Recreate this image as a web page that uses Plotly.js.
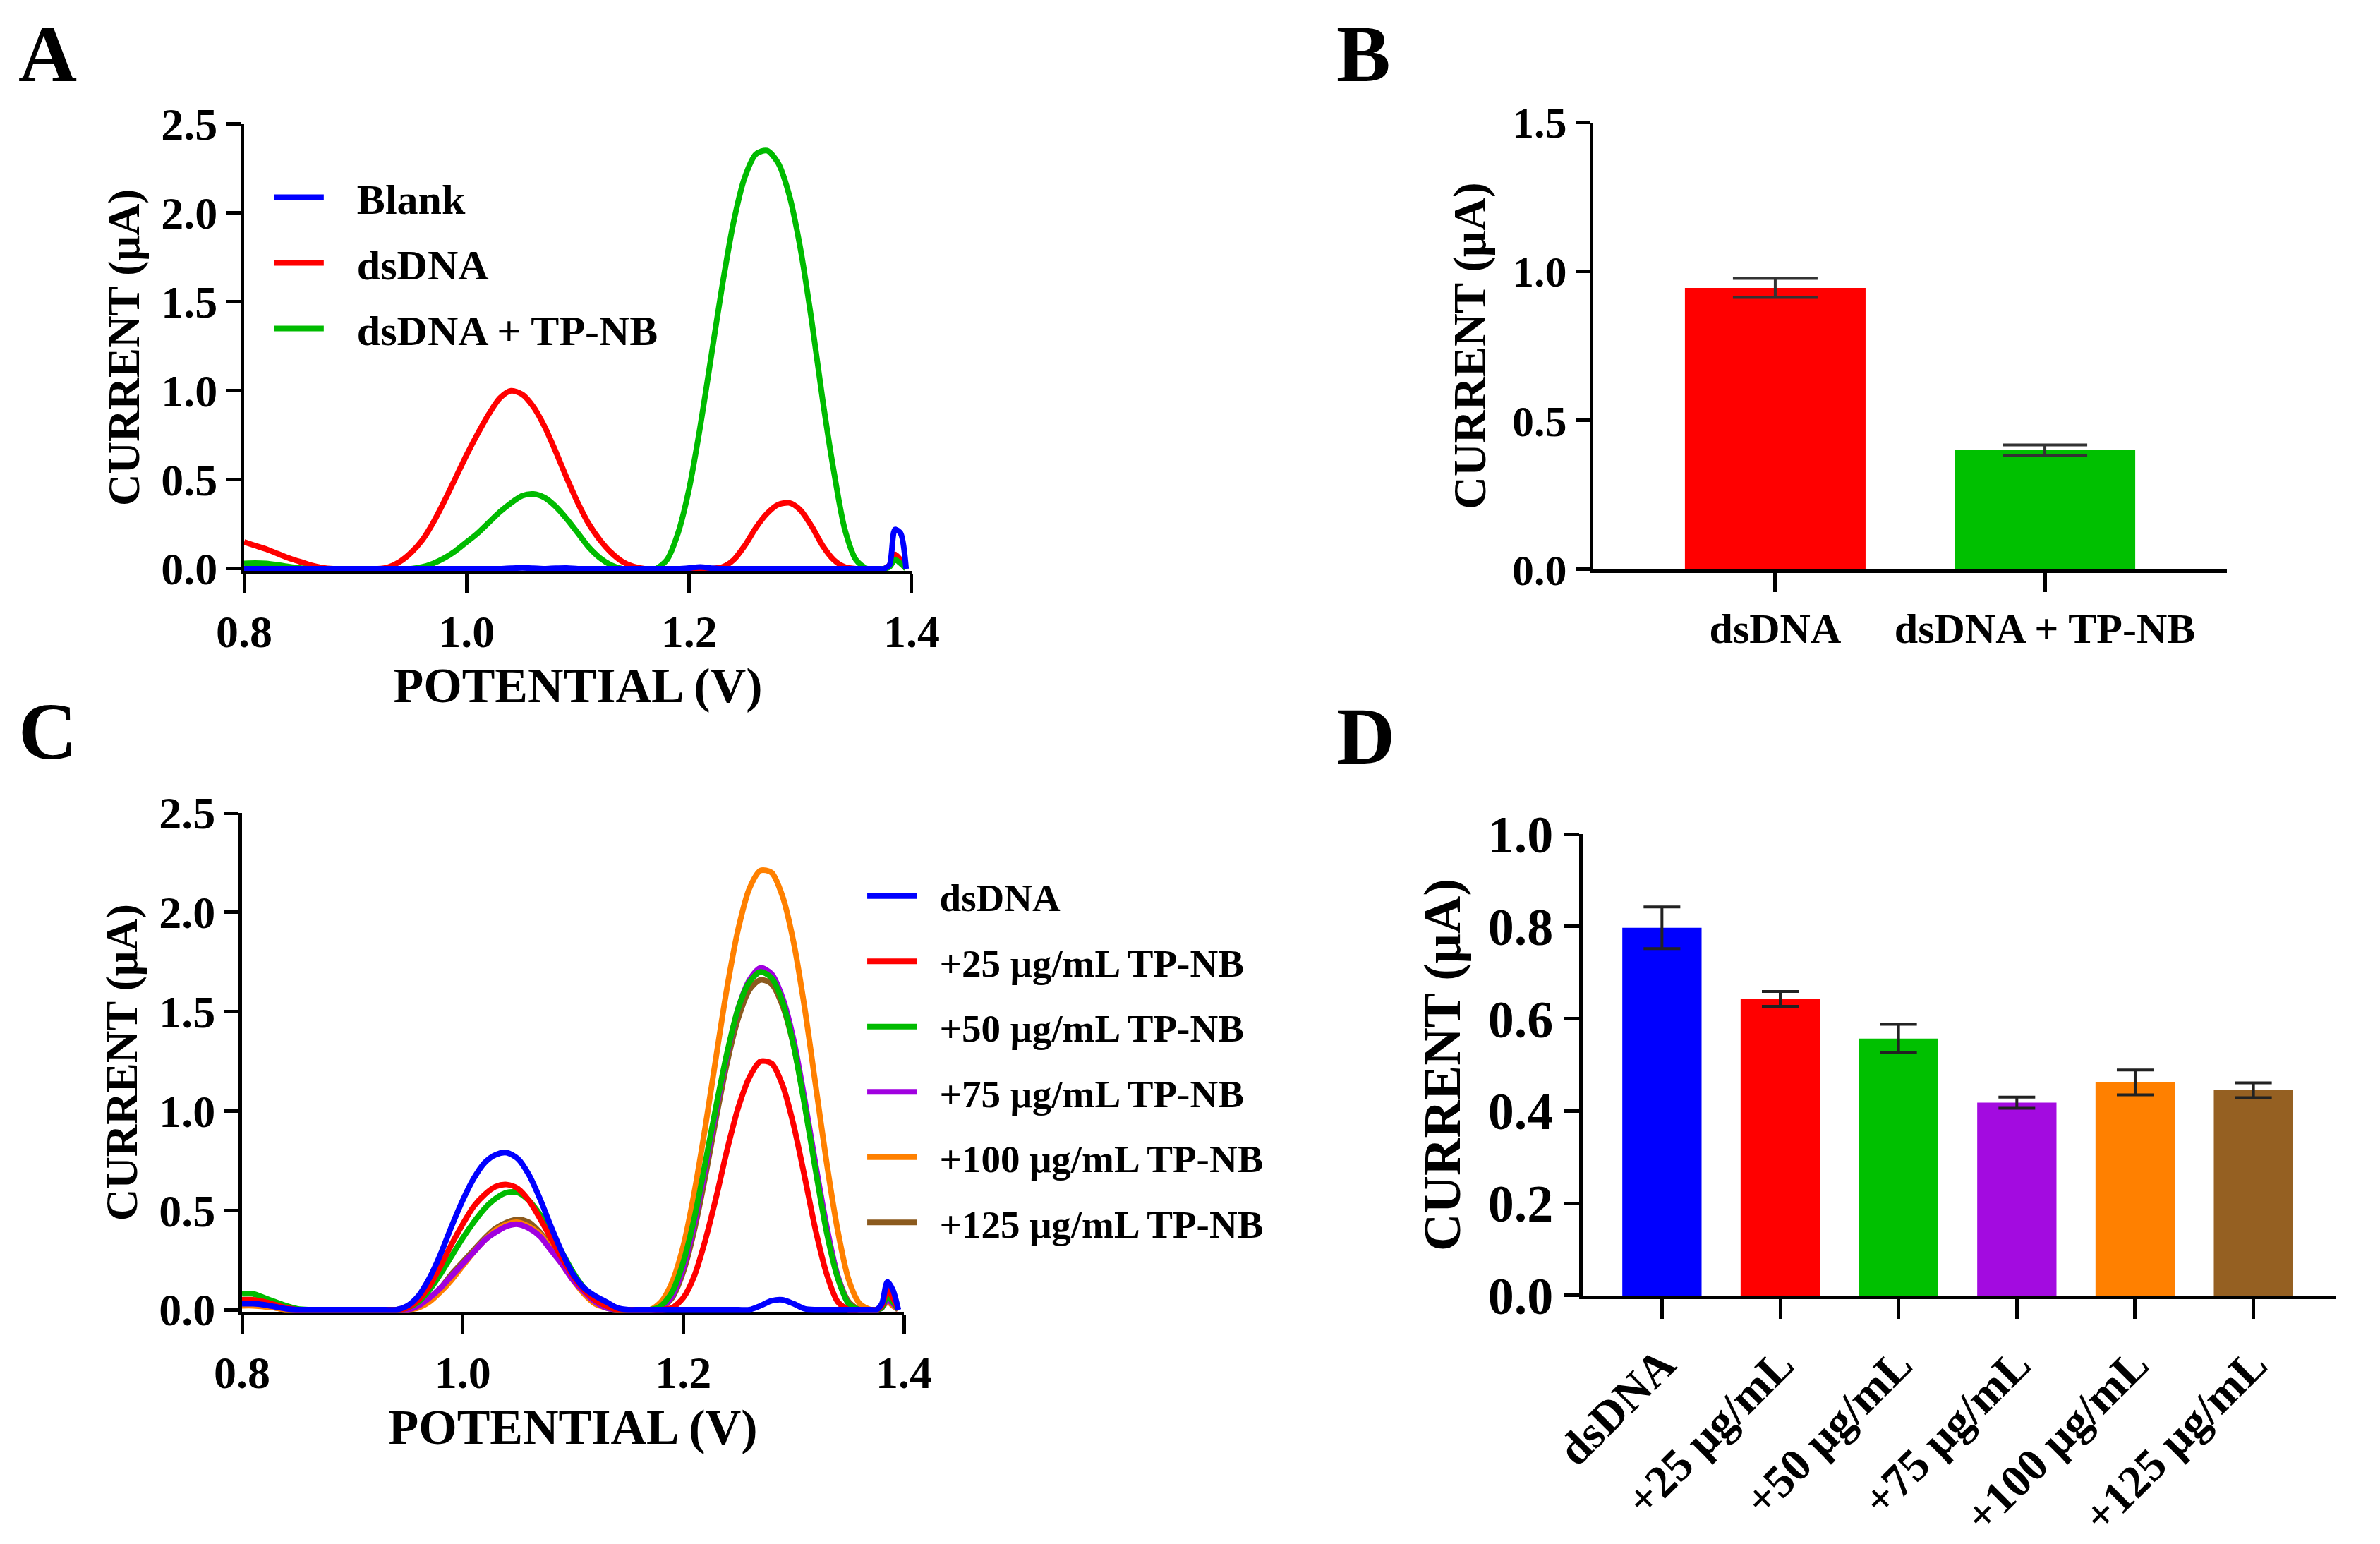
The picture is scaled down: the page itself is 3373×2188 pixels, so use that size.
<!DOCTYPE html>
<html>
<head>
<meta charset="utf-8">
<script src="https://cdn.plot.ly/plotly-3.0.1.min.js"></script>
<style>html,body{margin:0;padding:0;background:#fff;}#chart{width:3373px;height:2188px;}</style>
</head>
<body>
<div id="chart"></div>
<script>
// ---------- DATA ----------
const potential = [
  0.80,0.81,0.82,0.83,0.84,0.85,0.86,0.87,0.88,0.89,
  0.90,0.91,0.92,0.93,0.94,0.95,0.96,0.97,0.98,0.99,
  1.00,1.01,1.02,1.03,1.04,1.05,1.06,1.07,1.08,1.09,
  1.10,1.11,1.12,1.13,1.14,1.15,1.16,1.17,1.18,1.19,
  1.20,1.21,1.22,1.23,1.24,1.25,1.26,1.27,1.28,1.29,
  1.30,1.31,1.32,1.33,1.34,1.35,1.36,1.37,
  1.375,1.38,1.385,1.39,1.395
];

// Panel A
const aBlank = [
  0,0,0,0,0,0,0,0,0,0,
  0,0,0,0,0,0,0,0,0,0,
  0,0,0,0,0.003,0.005,0.003,0,0.003,0.004,
  0,0,0,0,0,0,0,0,0,0,
  0.004,0.01,0.003,0,0,0,0,0,0,0,
  0,0,0,0,0,0,0,0,
  0,0.02,0.22,0.20,0
];
const aDsDNA = [
  0.15,0.13,0.11,0.085,0.06,0.04,0.02,0.006,0,0,
  0,0,0,0.01,0.04,0.09,0.16,0.26,0.38,0.51,
  0.64,0.76,0.87,0.96,1.00,0.98,0.91,0.80,0.66,0.51,
  0.37,0.25,0.16,0.09,0.04,0.012,0,0,0,0,
  0,0,0,0.01,0.05,0.13,0.23,0.31,0.36,0.37,
  0.33,0.24,0.13,0.05,0.01,0,0,0,
  0,0.02,0.08,0.05,0
];
const aDsDNA_TPNB = [
  0.03,0.032,0.03,0.022,0.012,0.004,0,0,0,0,
  0,0,0,0,0,0,0.01,0.03,0.06,0.10,
  0.15,0.20,0.26,0.32,0.37,0.41,0.42,0.40,0.35,0.28,
  0.20,0.12,0.06,0.02,0,0,0,0,0.05,0.20,
  0.45,0.80,1.20,1.60,1.95,2.20,2.33,2.35,2.28,2.10,
  1.80,1.40,0.95,0.55,0.22,0.05,0,0,
  0,0.01,0.05,0.03,0
];

// Panel C
const cDsDNA = [
  0.03,0.03,0.025,0.015,0.005,0,0,0,0,0,
  0,0,0,0,0,0.02,0.07,0.16,0.28,0.42,
  0.55,0.66,0.74,0.78,0.79,0.76,0.68,0.56,0.42,0.29,
  0.18,0.11,0.07,0.04,0.01,0,0,0,0,0,
  0,0,0,0,0,0,0,0.02,0.045,0.05,
  0.03,0.005,0,0,0,0,0,0,
  0,0.03,0.14,0.10,0
];
const c25 = [
  0.05,0.05,0.04,0.025,0.01,0,0,0,0,0,
  0,0,0,0,0,0.01,0.05,0.12,0.22,0.33,
  0.43,0.52,0.58,0.62,0.63,0.61,0.55,0.46,0.36,0.26,
  0.17,0.10,0.05,0.02,0,0,0,0,0,0.01,
  0.06,0.17,0.35,0.57,0.81,1.02,1.17,1.25,1.24,1.13,
  0.93,0.67,0.40,0.18,0.04,0,0,0,
  0,0.02,0.10,0.06,0
];
const c50 = [
  0.08,0.08,0.06,0.04,0.02,0.005,0,0,0,0,
  0,0,0,0,0,0.01,0.04,0.10,0.18,0.27,
  0.36,0.44,0.51,0.56,0.59,0.59,0.55,0.48,0.39,0.29,
  0.19,0.11,0.05,0.02,0,0,0,0,0.02,0.09,
  0.24,0.46,0.74,1.03,1.30,1.52,1.65,1.70,1.67,1.55,
  1.33,1.03,0.70,0.39,0.16,0.03,0,0,
  0,0.01,0.07,0.04,0
];
const c75 = [
  0.04,0.035,0.025,0.015,0.005,0,0,0,0,0,
  0,0,0,0,0,0,0.02,0.06,0.11,0.17,
  0.23,0.29,0.35,0.39,0.42,0.43,0.41,0.37,0.30,0.23,
  0.15,0.09,0.04,0.01,0,0,0,0,0.01,0.07,
  0.21,0.43,0.71,1.01,1.29,1.52,1.66,1.72,1.69,1.57,
  1.36,1.06,0.73,0.42,0.17,0.03,0,0,
  0,0.01,0.05,0.03,0
];
const c100 = [
  0.02,0.02,0.015,0.01,0,0,0,0,0,0,
  0,0,0,0,0,0,0.01,0.04,0.09,0.15,
  0.22,0.29,0.35,0.40,0.43,0.44,0.42,0.38,0.31,0.23,
  0.15,0.08,0.03,0.01,0,0,0,0,0.04,0.14,
  0.32,0.59,0.92,1.28,1.63,1.92,2.12,2.21,2.20,2.08,
  1.85,1.52,1.13,0.74,0.40,0.15,0.03,0,
  0,0.01,0.04,0.02,0
];
const c125 = [
  0.03,0.03,0.02,0.01,0,0,0,0,0,0,
  0,0,0,0,0,0,0.02,0.06,0.11,0.18,
  0.24,0.30,0.36,0.41,0.44,0.455,0.44,0.39,0.32,0.24,
  0.16,0.09,0.04,0.01,0,0,0,0,0.01,0.06,
  0.19,0.40,0.67,0.97,1.25,1.47,1.61,1.66,1.64,1.53,
  1.33,1.04,0.72,0.41,0.17,0.04,0,0,
  0,0.01,0.05,0.03,0
];

// Panel B
const bCategories = ['dsDNA', 'dsDNA + TP-NB'];
const bValues = [0.945, 0.40];
const bErrors = [0.032, 0.018];

// Panel D
const dCategories = ['dsDNA', '+25 μg/mL', '+50 μg/mL', '+75 μg/mL', '+100 μg/mL', '+125 μg/mL'];
const dValues = [0.797, 0.643, 0.557, 0.418, 0.462, 0.445];
const dErrors = [0.045, 0.016, 0.031, 0.012, 0.027, 0.016];

// Legend labels
const aLegend = ['Blank', 'dsDNA', 'dsDNA + TP-NB'];
const cLegend = ['dsDNA', '+25 μg/mL TP-NB', '+50 μg/mL TP-NB', '+75 μg/mL TP-NB', '+100 μg/mL TP-NB', '+125 μg/mL TP-NB'];

// ---------- STYLE ----------
const FONT = 'Liberation Serif, Times New Roman, serif';
const COL = {blue:'#0000FF', red:'#FF0000', green:'#00BB00', purple:'#A000E0', orange:'#FF8000', brown:'#8B5A1E'};
const LW = 8;
const GAP_A = '\u2002\u2009'; // spacing between legend key and label
const GAP_C = '\u2002';

function line(x, y, name, color, xa, ya, leg, rank) {
  const gap = leg === 'legend' ? GAP_A : GAP_C;
  return {type:'scatter', mode:'lines', x:x, y:y, name:gap + name, xaxis:xa, yaxis:ya,
    legend:leg, legendrank:rank, legendgroup:leg+rank,
    line:{color:color, width:LW, shape:'spline', smoothing:0.8}, hoverinfo:'skip'};
}

const data = [
  // A (blank drawn last so its baseline sits on top)
  line(potential, aDsDNA, aLegend[1], COL.red, 'x', 'y', 'legend', 2),
  line(potential, aDsDNA_TPNB, aLegend[2], COL.green, 'x', 'y', 'legend', 3),
  line(potential, aBlank, aLegend[0], COL.blue, 'x', 'y', 'legend', 1),
  // C
  line(potential, c125, cLegend[5], COL.brown, 'x3', 'y3', 'legend2', 6),
  line(potential, c100, cLegend[4], COL.orange, 'x3', 'y3', 'legend2', 5),
  line(potential, c75, cLegend[3], COL.purple, 'x3', 'y3', 'legend2', 4),
  line(potential, c50, cLegend[2], COL.green, 'x3', 'y3', 'legend2', 3),
  line(potential, c25, cLegend[1], COL.red, 'x3', 'y3', 'legend2', 2),
  line(potential, cDsDNA, cLegend[0], COL.blue, 'x3', 'y3', 'legend2', 1),
  // B
  {type:'bar', x:bCategories, y:bValues, xaxis:'x2', yaxis:'y2', width:0.67, showlegend:false,
   marker:{color:[COL.red, '#00C000'], line:{width:0}},
   error_y:{type:'data', array:bErrors, visible:true, color:'#333333', thickness:4, width:60}},
  // D
  {type:'bar', x:dCategories, y:dValues, xaxis:'x4', yaxis:'y4', width:0.67, showlegend:false,
   marker:{color:['#0000FF','#FF0000','#00C000','#A30BE0','#FF8000','#956022'], line:{width:0}},
   error_y:{type:'data', array:dErrors, visible:true, color:'#222222', thickness:4, width:26}}
];

function tf(size){ return {family:FONT, size:size, color:'#000', weight:'bold'}; }

const axBase = {showline:true, linecolor:'#000', linewidth:5, ticks:'outside', tickcolor:'#000', tickwidth:5,
  showgrid:false, zeroline:false, fixedrange:true, layer:'below traces'};

const layout = {
  width:3373, height:2188, margin:{l:0, r:0, t:0, b:0},
  paper_bgcolor:'#fff', plot_bgcolor:'rgba(0,0,0,0)',
  font:{family:FONT, color:'#000', weight:'bold'},
  showlegend:true,
  // Panel A
  xaxis: Object.assign({}, axBase, {domain:[0.10258, 0.38304], anchor:'y', range:[0.8, 1.4], dtick:0.2, tick0:0.8,
    tickformat:'.1f', ticklen:26, tickfont:tf(64),
    title:{text:'POTENTIAL (V)', font:tf(70), standoff:18}}),
  yaxis: Object.assign({}, axBase, {domain:[0.63026, 0.91974], anchor:'x', range:[-0.012, 2.5], dtick:0.5, tick0:0,
    tickformat:'.1f', ticklen:20, tickfont:tf(64),
    title:{text:'CURRENT (μA)', font:tf(63), standoff:12}}),
  // Panel B
  xaxis2: Object.assign({}, axBase, {domain:[0.66943, 0.93567], anchor:'y2', type:'category', range:[-0.675, 1.675],
    ticklen:27, tickfont:tf(60)}),
  yaxis2: Object.assign({}, axBase, {domain:[0.63117, 0.92070], anchor:'x2', range:[0, 1.5], dtick:0.5, tick0:0,
    tickformat:'.1f', ticklen:20, tickfont:tf(62),
    title:{text:'CURRENT (μA)', font:tf(65), standoff:18}}),
  // Panel C
  xaxis3: Object.assign({}, axBase, {domain:[0.10169, 0.37978], anchor:'y3', range:[0.8, 1.4], dtick:0.2, tick0:0.8,
    tickformat:'.1f', ticklen:26, tickfont:tf(64),
    title:{text:'POTENTIAL (V)', font:tf(70), standoff:18}}),
  yaxis3: Object.assign({}, axBase, {domain:[0.15018, 0.47349], anchor:'x3', range:[-0.012, 2.5], dtick:0.5, tick0:0,
    tickformat:'.1f', ticklen:20, tickfont:tf(64),
    title:{text:'CURRENT (μA)', font:tf(63), standoff:12}}),
  // Panel D
  xaxis4: Object.assign({}, axBase, {domain:[0.66499, 0.98162], anchor:'y4', type:'category', range:[-0.67, 5.70],
    ticklen:28, tickangle:-45, tickfont:tf(65)}),
  yaxis4: Object.assign({}, axBase, {domain:[0.16088, 0.45978], anchor:'x4', range:[0, 1.0], dtick:0.2, tick0:0,
    tickformat:'.1f', ticklen:22, tickfont:tf(74),
    title:{text:'CURRENT (μA)', font:tf(74), standoff:16}}),
  legend: {x:0.1138, y:0.893, xanchor:'left', yanchor:'top', bgcolor:'rgba(0,0,0,0)', borderwidth:0,
    font:tf(60), itemwidth:70, traceorder:'grouped', tracegroupgap:12},
  legend2: {x:0.3629, y:0.4390, xanchor:'left', yanchor:'top', bgcolor:'rgba(0,0,0,0)', borderwidth:0,
    font:tf(55), itemwidth:70, traceorder:'grouped', tracegroupgap:18},
  annotations: [
    {text:'A', x:0.007, y:0.995, xref:'paper', yref:'paper', xanchor:'left', yanchor:'top', showarrow:false, font:tf(115)},
    {text:'B', x:0.561, y:0.995, xref:'paper', yref:'paper', xanchor:'left', yanchor:'top', showarrow:false, font:tf(115)},
    {text:'C', x:0.007, y:0.556, xref:'paper', yref:'paper', xanchor:'left', yanchor:'top', showarrow:false, font:tf(115)},
    {text:'D', x:0.561, y:0.553, xref:'paper', yref:'paper', xanchor:'left', yanchor:'top', showarrow:false, font:tf(115)}
  ]
};

Plotly.newPlot('chart', data, layout, {displayModeBar:false, staticPlot:true});
</script>
</body>
</html>
